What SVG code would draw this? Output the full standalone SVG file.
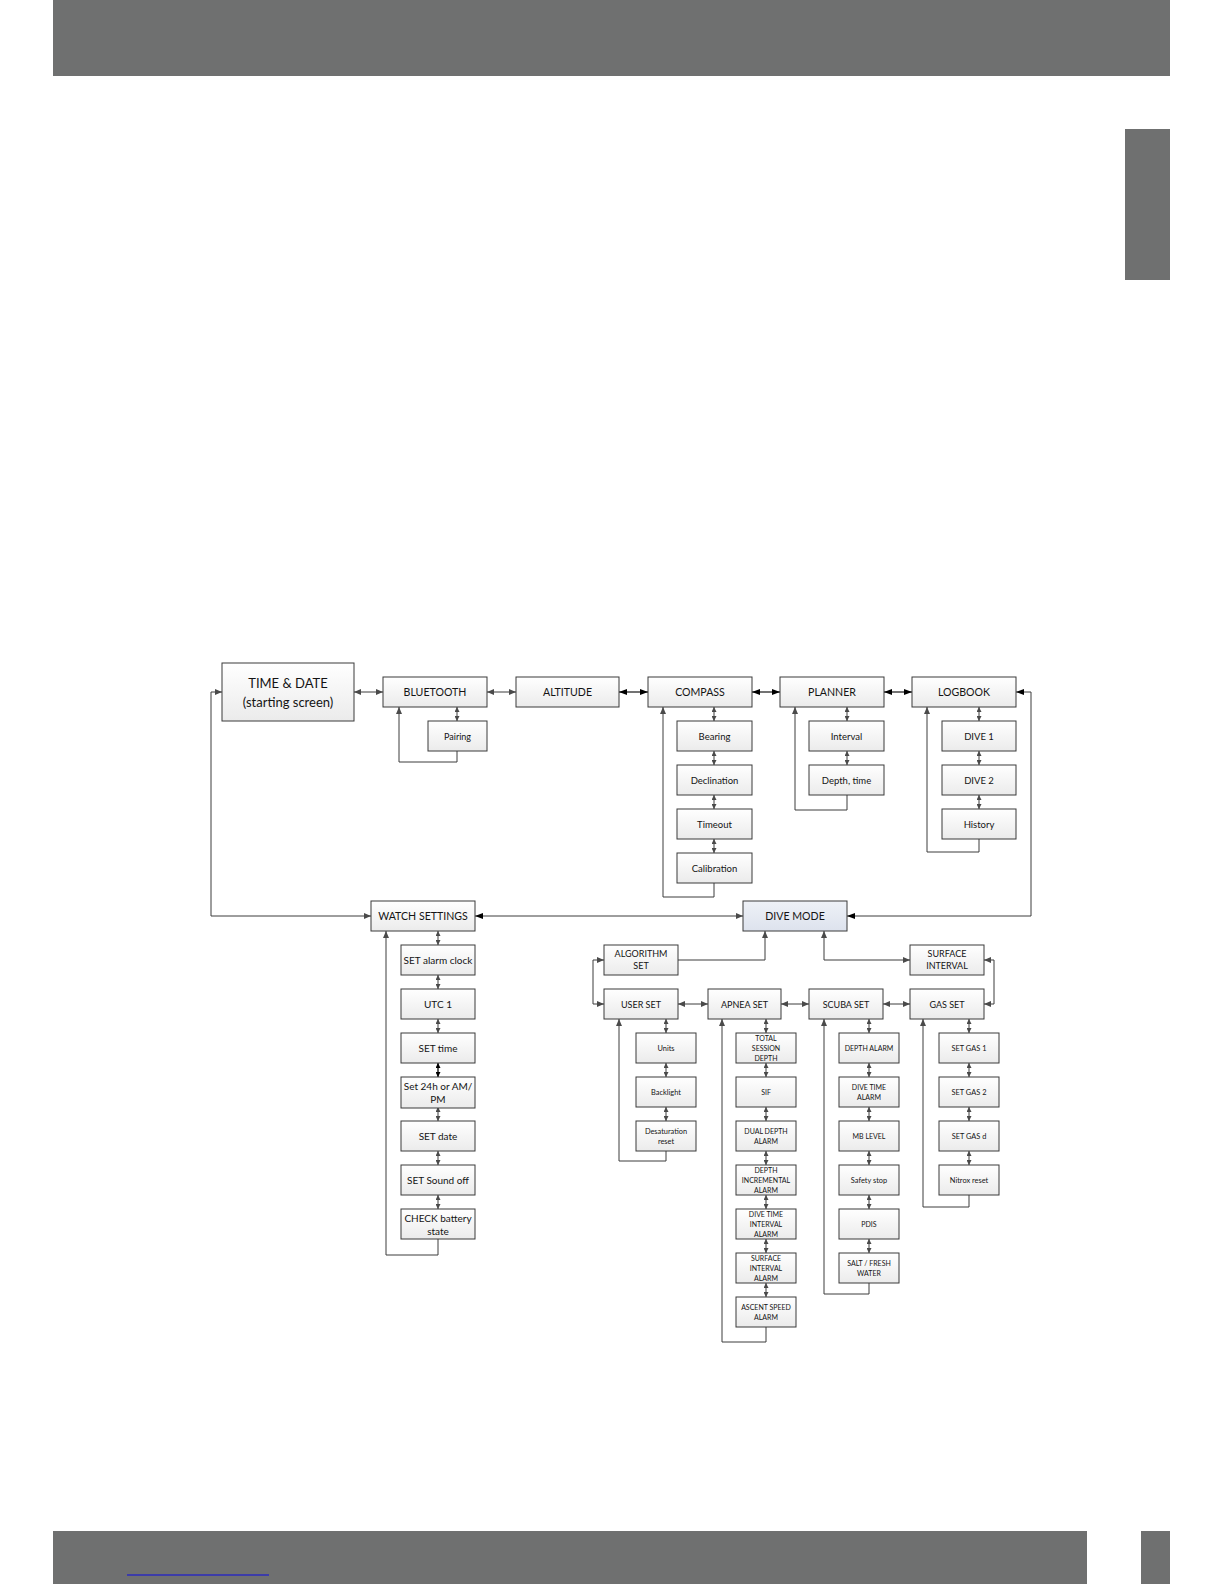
<svg xmlns="http://www.w3.org/2000/svg" width="1224" height="1584" viewBox="0 0 1224 1584">
<defs>
<linearGradient id="g" x1="0" y1="0" x2="0" y2="1"><stop offset="0" stop-color="#ffffff"/><stop offset="1" stop-color="#ebebeb"/></linearGradient>
<linearGradient id="gb" x1="0" y1="0" x2="0" y2="1"><stop offset="0" stop-color="#eef1f7"/><stop offset="1" stop-color="#dde2ed"/></linearGradient>
<marker id="ag" viewBox="0 0 7 6" refX="7" refY="3" markerWidth="7" markerHeight="6" markerUnits="userSpaceOnUse" orient="auto-start-reverse"><path d="M0,0 L7,3 L0,6 z" fill="#4a4a4a"/></marker>
<marker id="ak" viewBox="0 0 8 6" refX="8" refY="3" markerWidth="8" markerHeight="6" markerUnits="userSpaceOnUse" orient="auto-start-reverse"><path d="M0,0 L8,3 L0,6 z" fill="#000"/></marker>
<marker id="as" viewBox="0 0 5 5" refX="5" refY="2.5" markerWidth="5" markerHeight="5" markerUnits="userSpaceOnUse" orient="auto-start-reverse"><path d="M0,0 L5,2.5 L0,5 z" fill="#4a4a4a"/></marker>
<marker id="asb" viewBox="0 0 5 5" refX="5" refY="2.5" markerWidth="5" markerHeight="5" markerUnits="userSpaceOnUse" orient="auto-start-reverse"><path d="M0,0 L5,2.5 L0,5 z" fill="#000"/></marker>
</defs>
<style>
.b{fill:url(#g);stroke:#3a3a3a;stroke-width:1}
.bd{fill:url(#gb);stroke:#3a3a3a;stroke-width:1}
text{font-family:Lato,"Open Sans","Liberation Sans",sans-serif;fill:#141414;text-anchor:middle;dominant-baseline:central}
.f13{font-size:13px}.f11{font-size:10.6px}.f10{font-size:10px}.f95{font-size:9.5px}.f9{font-size:9px}.f7{font-size:7.4px}.f68{font-size:7px}
.c{fill:none;stroke:#3c3c3c;stroke-width:1}
.d{marker-start:url(#ag);marker-end:url(#ag)}
.s{marker-start:url(#as);marker-end:url(#as)}
.sb{fill:none;stroke:#000;stroke-width:1.3;marker-start:url(#asb);marker-end:url(#asb)}
.e{marker-end:url(#ag)}
.k{fill:none;stroke:#000;stroke-width:1.1;marker-start:url(#ak);marker-end:url(#ak)}
</style>
<rect width="1224" height="1584" fill="#fff"/>
<g id="page">
<rect x="53" y="0" width="1117" height="76" fill="#6f7070"/>
<rect x="1125" y="129" width="45" height="151" fill="#6f7070"/>
<rect x="53" y="1531" width="1034" height="53" fill="#6f7070"/>
<rect x="1141" y="1531" width="29" height="53" fill="#6f7070"/>
<line x1="127" y1="1575" x2="269" y2="1575" stroke="#2b2bbd" stroke-width="1.6"/>
</g>
<g id="connectors">
<path class="c d" d="M354,692 H383"/>
<path class="c d" d="M487,692 H516"/>
<path class="k" d="M619,692 H648"/>
<path class="k" d="M752,692 H780"/>
<path class="k" d="M884,692 H912"/>
<path class="c d" d="M222,692 H211 V916 H371"/>
<path class="c" d="M1016,692 H1031 V916 H847" style="marker-start:url(#ak);marker-end:url(#ak)"/>
<path class="c" d="M475,916 H743" style="marker-start:url(#ak);marker-end:url(#ag)"/>
<path class="c s" d="M457,707 V721"/>
<path class="c e" d="M457,751 V762 H399 V707"/>
<path class="c s" d="M714,707 V721"/>
<path class="c s" d="M714,751 V765"/>
<path class="c s" d="M714,795 V809"/>
<path class="c s" d="M714,839 V853"/>
<path class="c e" d="M714,883 V897 H663 V707"/>
<path class="c s" d="M847,707 V721"/>
<path class="c s" d="M847,751 V765"/>
<path class="c e" d="M847,795 V810 H795 V707"/>
<path class="c s" d="M979,707 V721"/>
<path class="c s" d="M979,751 V765"/>
<path class="c s" d="M979,795 V809"/>
<path class="c e" d="M979,839 V852 H927 V707"/>
<path class="c s" d="M438,931 V945"/>
<path class="c s" d="M438,975 V989"/>
<path class="c s" d="M438,1019 V1033"/>
<path class="sb" d="M438,1063 V1077"/>
<path class="c s" d="M438,1107 V1121"/>
<path class="c s" d="M438,1151 V1165"/>
<path class="c s" d="M438,1195 V1209"/>
<path class="c e" d="M438,1239 V1255 H386 V931"/>
<path class="c e" d="M678,960 H765 V931"/>
<path class="c d" d="M824,931 V960 H910"/>
<path class="c d" d="M604,960 H593 V1004 H604"/>
<path class="c d" d="M984,960 H994 V1004 H984"/>
<path class="c d" d="M678,1004 H708"/>
<path class="c d" d="M781,1004 H809"/>
<path class="c d" d="M883,1004 H910"/>
<path class="c s" d="M666,1019 V1033"/>
<path class="c s" d="M666,1063 V1077"/>
<path class="c s" d="M666,1107 V1121"/>
<path class="c e" d="M666,1151 V1161 H619 V1019"/>
<path class="c s" d="M766,1019 V1033"/>
<path class="c s" d="M766,1063 V1077"/>
<path class="c s" d="M766,1107 V1121"/>
<path class="c s" d="M766,1151 V1165"/>
<path class="c s" d="M766,1195 V1209"/>
<path class="c s" d="M766,1239 V1253"/>
<path class="c s" d="M766,1283 V1297"/>
<path class="c e" d="M766,1327 V1342 H722 V1019"/>
<path class="c s" d="M869,1019 V1033"/>
<path class="c s" d="M869,1063 V1077"/>
<path class="c s" d="M869,1107 V1121"/>
<path class="c s" d="M869,1151 V1165"/>
<path class="c s" d="M869,1195 V1209"/>
<path class="c s" d="M869,1239 V1253"/>
<path class="c e" d="M869,1283 V1294 H824 V1019"/>
<path class="c s" d="M969,1019 V1033"/>
<path class="c s" d="M969,1063 V1077"/>
<path class="c s" d="M969,1107 V1121"/>
<path class="c s" d="M969,1151 V1165"/>
<path class="c e" d="M969,1195 V1207 H923 V1019"/>
</g>
<g id="n-time"><rect class="b" x="222" y="663" width="132" height="58"/><text class="f13" x="288" y="683">TIME &amp; DATE</text><text class="f13" x="288" y="702">(starting screen)</text></g>
<g id="n-bluetooth"><rect class="b" x="383" y="677" width="104" height="30"/><text class="f11" x="435" y="692">BLUETOOTH</text></g>
<g id="n-altitude"><rect class="b" x="516" y="677" width="103" height="30"/><text class="f11" x="567.5" y="692">ALTITUDE</text></g>
<g id="n-compass"><rect class="b" x="648" y="677" width="104" height="30"/><text class="f11" x="700" y="692">COMPASS</text></g>
<g id="n-planner"><rect class="b" x="780" y="677" width="104" height="30"/><text class="f11" x="832" y="692">PLANNER</text></g>
<g id="n-logbook"><rect class="b" x="912" y="677" width="104" height="30"/><text class="f11" x="964" y="692">LOGBOOK</text></g>
<g id="n-pairing"><rect class="b" x="428" y="721" width="59" height="30"/><text class="f9" x="457.5" y="736">Pairing</text></g>
<g id="n-bearing"><rect class="b" x="677" y="721" width="75" height="30"/><text class="f95" x="714.5" y="736">Bearing</text></g>
<g id="n-declination"><rect class="b" x="677" y="765" width="75" height="30"/><text class="f95" x="714.5" y="780">Declination</text></g>
<g id="n-timeout"><rect class="b" x="677" y="809" width="75" height="30"/><text class="f95" x="714.5" y="824">Timeout</text></g>
<g id="n-calibration"><rect class="b" x="677" y="853" width="75" height="30"/><text class="f95" x="714.5" y="868">Calibration</text></g>
<g id="n-interval"><rect class="b" x="809" y="721" width="75" height="30"/><text class="f95" x="846.5" y="736">Interval</text></g>
<g id="n-depthtime"><rect class="b" x="809" y="765" width="75" height="30"/><text class="f95" x="846.5" y="780">Depth, time</text></g>
<g id="n-dive1"><rect class="b" x="942" y="721" width="74" height="30"/><text class="f95" x="979" y="736">DIVE 1</text></g>
<g id="n-dive2"><rect class="b" x="942" y="765" width="74" height="30"/><text class="f95" x="979" y="780">DIVE 2</text></g>
<g id="n-history"><rect class="b" x="942" y="809" width="74" height="30"/><text class="f95" x="979" y="824">History</text></g>
<g id="n-watch"><rect class="b" x="371" y="901" width="104" height="30"/><text class="f11" x="423" y="916">WATCH SETTINGS</text></g>
<g id="n-divemode"><rect class="bd" x="743" y="901" width="104" height="30"/><text class="f11" x="795" y="916">DIVE MODE</text></g>
<g id="n-alarmclock"><rect class="b" x="401" y="945" width="74" height="30"/><text class="f10" x="438" y="960">SET alarm clock</text></g>
<g id="n-utc"><rect class="b" x="401" y="989" width="74" height="30"/><text class="f10" x="438" y="1004">UTC 1</text></g>
<g id="n-settime"><rect class="b" x="401" y="1033" width="74" height="30"/><text class="f10" x="438" y="1048">SET time</text></g>
<g id="n-24h"><rect class="b" x="401" y="1077" width="74" height="31"/><text class="f10" x="438" y="1086">Set 24h or AM/</text><text class="f10" x="438" y="1098.5">PM</text></g>
<g id="n-setdate"><rect class="b" x="401" y="1121" width="74" height="30"/><text class="f10" x="438" y="1136">SET date</text></g>
<g id="n-sound"><rect class="b" x="401" y="1165" width="74" height="30"/><text class="f10" x="438" y="1180">SET Sound off</text></g>
<g id="n-battery"><rect class="b" x="401" y="1209" width="74" height="30"/><text class="f10" x="438" y="1218">CHECK battery</text><text class="f10" x="438" y="1230.5">state</text></g>
<g id="n-algorithm"><rect class="b" x="604" y="945" width="74" height="30"/><text class="f9" x="641" y="953">ALGORITHM</text><text class="f9" x="641" y="965.5">SET</text></g>
<g id="n-surface"><rect class="b" x="910" y="945" width="74" height="30"/><text class="f9" x="947" y="953">SURFACE</text><text class="f9" x="947" y="965.5">INTERVAL</text></g>
<g id="n-userset"><rect class="b" x="604" y="989" width="74" height="30"/><text class="f9" x="641" y="1004">USER SET</text></g>
<g id="n-apneaset"><rect class="b" x="708" y="989" width="73" height="30"/><text class="f9" x="744.5" y="1004">APNEA SET</text></g>
<g id="n-scubaset"><rect class="b" x="809" y="989" width="74" height="30"/><text class="f9" x="846" y="1004">SCUBA SET</text></g>
<g id="n-gasset"><rect class="b" x="910" y="989" width="74" height="30"/><text class="f9" x="947" y="1004">GAS SET</text></g>
<g id="n-units"><rect class="b" x="636" y="1033" width="60" height="30"/><text class="f7" x="666" y="1048">Units</text></g>
<g id="n-backlight"><rect class="b" x="636" y="1077" width="60" height="30"/><text class="f7" x="666" y="1092">Backlight</text></g>
<g id="n-desat"><rect class="b" x="636" y="1121" width="60" height="30"/><text class="f7" x="666" y="1131">Desaturation</text><text class="f7" x="666" y="1141">reset</text></g>
<g id="n-tsd"><rect class="b" x="736" y="1033" width="60" height="30"/><text class="f68" x="766" y="1038">TOTAL</text><text class="f68" x="766" y="1048">SESSION</text><text class="f68" x="766" y="1058">DEPTH</text></g>
<g id="n-sif"><rect class="b" x="736" y="1077" width="60" height="30"/><text class="f68" x="766" y="1092">SIF</text></g>
<g id="n-dualdepth"><rect class="b" x="736" y="1121" width="60" height="30"/><text class="f68" x="766" y="1131">DUAL DEPTH</text><text class="f68" x="766" y="1141">ALARM</text></g>
<g id="n-depthinc"><rect class="b" x="736" y="1165" width="60" height="30"/><text class="f68" x="766" y="1170">DEPTH</text><text class="f68" x="766" y="1180">INCREMENTAL</text><text class="f68" x="766" y="1190">ALARM</text></g>
<g id="n-divetimeint"><rect class="b" x="736" y="1209" width="60" height="30"/><text class="f68" x="766" y="1214">DIVE TIME</text><text class="f68" x="766" y="1224">INTERVAL</text><text class="f68" x="766" y="1234">ALARM</text></g>
<g id="n-surfint"><rect class="b" x="736" y="1253" width="60" height="30"/><text class="f68" x="766" y="1258">SURFACE</text><text class="f68" x="766" y="1268">INTERVAL</text><text class="f68" x="766" y="1278">ALARM</text></g>
<g id="n-ascent"><rect class="b" x="736" y="1297" width="60" height="30"/><text class="f68" x="766" y="1307">ASCENT SPEED</text><text class="f68" x="766" y="1317">ALARM</text></g>
<g id="n-depthalarm"><rect class="b" x="839" y="1033" width="60" height="30"/><text class="f68" x="869" y="1048">DEPTH ALARM</text></g>
<g id="n-divetime"><rect class="b" x="839" y="1077" width="60" height="30"/><text class="f68" x="869" y="1087">DIVE TIME</text><text class="f68" x="869" y="1097">ALARM</text></g>
<g id="n-mblevel"><rect class="b" x="839" y="1121" width="60" height="30"/><text class="f68" x="869" y="1136">MB LEVEL</text></g>
<g id="n-safety"><rect class="b" x="839" y="1165" width="60" height="30"/><text class="f7" x="869" y="1180">Safety stop</text></g>
<g id="n-pdis"><rect class="b" x="839" y="1209" width="60" height="30"/><text class="f68" x="869" y="1224">PDIS</text></g>
<g id="n-salt"><rect class="b" x="839" y="1253" width="60" height="30"/><text class="f68" x="869" y="1263">SALT / FRESH</text><text class="f68" x="869" y="1273">WATER</text></g>
<g id="n-gas1"><rect class="b" x="939" y="1033" width="60" height="30"/><text class="f7" x="969" y="1048">SET GAS 1</text></g>
<g id="n-gas2"><rect class="b" x="939" y="1077" width="60" height="30"/><text class="f7" x="969" y="1092">SET GAS 2</text></g>
<g id="n-gasd"><rect class="b" x="939" y="1121" width="60" height="30"/><text class="f7" x="969" y="1136">SET GAS d</text></g>
<g id="n-nitrox"><rect class="b" x="939" y="1165" width="60" height="30"/><text class="f7" x="969" y="1180">Nitrox reset</text></g>
</svg>
